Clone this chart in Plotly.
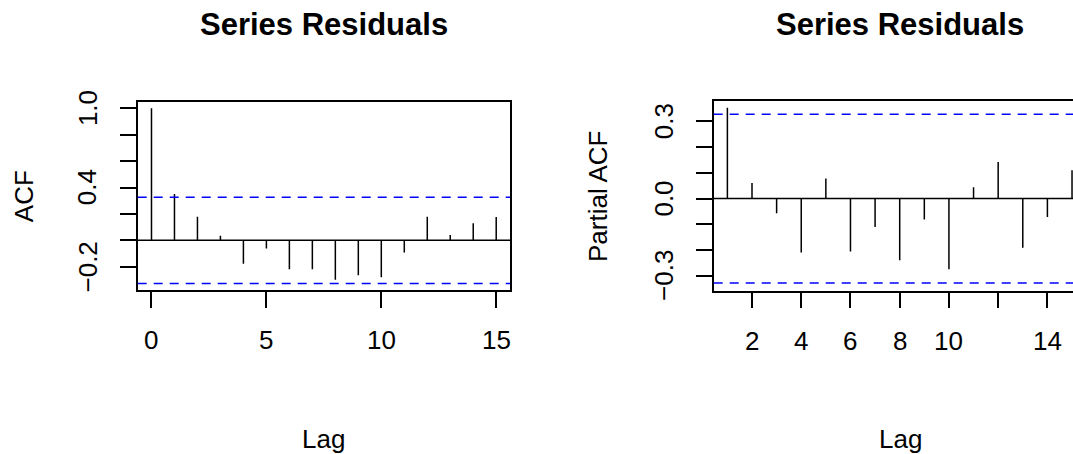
import plotly.graph_objects as go

# ---- data ----
acf_lags = list(range(0, 16))
acf_vals = [1.0, 0.351, 0.179, 0.035, -0.177, -0.063, -0.220, -0.220,
            -0.298, -0.265, -0.280, -0.093, 0.179, 0.040, 0.129, 0.177]
pacf_lags = list(range(1, 16))
pacf_vals = [0.352, 0.060, -0.057, -0.209, 0.078, -0.205, -0.110, -0.239,
             -0.081, -0.274, 0.044, 0.142, -0.191, -0.071, 0.110]
clim = 0.3267
title_text = "Series Residuals"
acf_yticks = [-0.2, 0.0, 0.2, 0.4, 0.6, 0.8, 1.0]
acf_ylabels = ["\u22120.2", "", "", "0.4", "", "", "1.0"]
acf_xticks = [0, 5, 10, 15]
acf_xlabels = ["0", "5", "10", "15"]
pacf_yticks = [-0.3, -0.2, -0.1, 0.0, 0.1, 0.2, 0.3]
pacf_ylabels = ["\u22120.3", "", "", "0.0", "", "", "0.3"]
pacf_xticks = [2, 4, 6, 8, 10, 12, 14]
pacf_xlabels = ["2", "4", "6", "8", "10", "", "14"]

W, H = 1073, 454
FONT = "Liberation Sans, Arial, sans-serif"
AX_FS = 26
TITLE_FS = 31
LW = 1.5


def px(x):
    return x / W


def py(y):
    return 1 - y / H


def stems(xs, ys):
    X, Y = [], []
    for a, b in zip(xs, ys):
        X += [a, a, None]
        Y += [0, b, None]
    return X, Y


fig = go.Figure()
x1, y1 = stems(acf_lags, acf_vals)
fig.add_trace(go.Scatter(x=x1, y=y1, mode="lines", line=dict(color="black", width=LW),
                         xaxis="x", yaxis="y", showlegend=False, hoverinfo="skip"))
x2, y2 = stems(pacf_lags, pacf_vals)
fig.add_trace(go.Scatter(x=x2, y=y2, mode="lines", line=dict(color="black", width=LW),
                         xaxis="x2", yaxis="y2", showlegend=False, hoverinfo="skip"))

axis_common = dict(showgrid=False, zeroline=False, showline=True, linecolor="black",
                   linewidth=LW, ticks="outside", ticklen=16, tickwidth=LW, tickcolor="black",
                   showticklabels=False, tickmode="array")

fig.update_layout(
    width=W, height=H, margin=dict(l=0, r=0, t=0, b=0),
    paper_bgcolor="white", plot_bgcolor="white", showlegend=False,
    xaxis=dict(axis_common, domain=[px(137.7), px(510)], range=[-0.6, 15.6],
               tickvals=acf_xticks, mirror=True, anchor="y"),
    yaxis=dict(axis_common, domain=[py(290), py(101.7)], range=[-0.3765, 1.05],
               tickvals=acf_yticks, mirror=True, anchor="x"),
    xaxis2=dict(axis_common, domain=[px(713.7), 1.0], range=[0.444, 15.04],
                tickvals=pacf_xticks, mirror=True, anchor="y2"),
    yaxis2=dict(axis_common, domain=[py(290.7), py(101.3)], range=[-0.357, 0.377],
                tickvals=pacf_yticks, mirror=False, anchor="x2"),
)

shapes = []
for xr, yr in (("x", "y"), ("x2", "y2")):
    shapes.append(dict(type="line", xref=f"{xr} domain", yref=yr, x0=0, x1=1, y0=0, y1=0,
                       line=dict(color="black", width=LW)))
    for s in (clim, -clim):
        shapes.append(dict(type="line", xref=f"{xr} domain", yref=yr, x0=0, x1=1, y0=s, y1=s,
                           line=dict(color="#0000ff", width=LW, dash="9px,7px")))
fig.update_layout(shapes=shapes)

tick_font = dict(family=FONT, size=AX_FS, color="black")
ann = []
# x tick labels
for xr, vals, labs, yc in (("x", acf_xticks, acf_xlabels, 340.0),
                           ("x2", pacf_xticks, pacf_xlabels, 341.3)):
    for v, t in zip(vals, labs):
        if t:
            ann.append(dict(text=t, x=v, y=py(yc), xref=xr, yref="paper",
                            xanchor="center", yanchor="middle", showarrow=False,
                            font=tick_font))
# y tick labels (rotated)
for yr, vals, labs, xc in (("y", acf_yticks, acf_ylabels, 87.8),
                           ("y2", pacf_yticks, pacf_ylabels, 664.0)):
    for v, t in zip(vals, labs):
        if t:
            ann.append(dict(text=t, x=px(xc), y=v, xref="paper", yref=yr,
                            xanchor="center", yanchor="middle", textangle=-90,
                            showarrow=False, font=tick_font))
for cx in (323.5, 900.1):
    ann.append(dict(text="<b>" + title_text + "</b>", x=px(cx), y=py(24.3), xref="paper",
                    yref="paper", xanchor="center", yanchor="middle", showarrow=False,
                    font=dict(family=FONT, size=TITLE_FS, color="black")))
    ann.append(dict(text="Lag", x=px(cx), y=py(439.2), xref="paper", yref="paper",
                    xanchor="center", yanchor="middle", showarrow=False,
                    font=tick_font))
ann.append(dict(text="ACF", x=px(24.2), y=py(196), xref="paper", yref="paper",
                xanchor="center", yanchor="middle", textangle=-90, showarrow=False,
                font=tick_font))
ann.append(dict(text="Partial ACF", x=px(598), y=py(196), xref="paper", yref="paper",
                xanchor="center", yanchor="middle", textangle=-90, showarrow=False,
                font=tick_font))
fig.update_layout(annotations=ann)

fig.write_html(
    "out.html",
    config=dict(displayModeBar=False),
    post_script="document.body.style.margin='0';document.body.style.overflow='hidden';",
)
